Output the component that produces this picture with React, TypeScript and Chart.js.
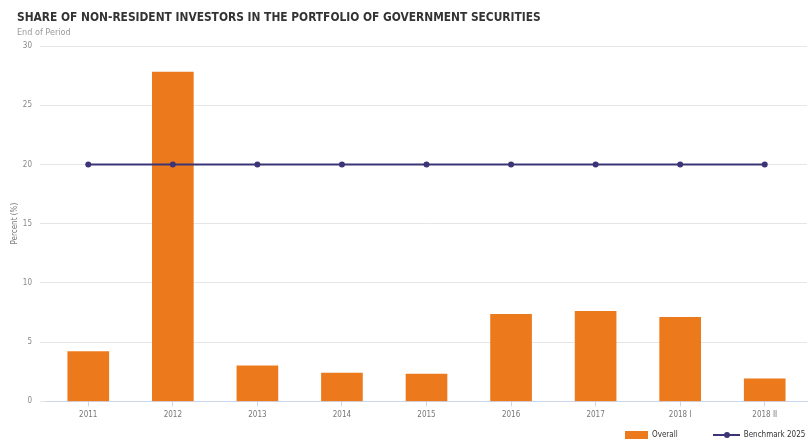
import React, { useEffect, useRef } from "react";
import { Chart, registerables } from "chart.js";

Chart.register(...registerables);

const categories = ["2011", "2012", "2013", "2014", "2015", "2016", "2017", "2018 I", "2018 II"];
const overall = [4.2, 27.8, 3.0, 2.4, 2.3, 7.35, 7.6, 7.1, 1.9];
const benchmark2025 = [20, 20, 20, 20, 20, 20, 20, 20, 20];
const yTicks = [0, 5, 10, 15, 20, 25, 30];

const ORANGE = "#ec7a1c";
const NAVY = "#3b3578";
const FONT = "'DejaVu Sans Condensed', 'DejaVu Sans', sans-serif";

export default function App() {
  const ref = useRef<HTMLCanvasElement>(null);
  useEffect(() => {
    if (!ref.current) return;
    const chart = new Chart(ref.current, {
      type: "bar",
      data: {
        labels: categories,
        datasets: [
          {
            type: "line",
            label: "Benchmark 2025",
            data: benchmark2025,
            borderColor: NAVY,
            backgroundColor: NAVY,
            borderWidth: 2,
            pointRadius: 3,
            pointBackgroundColor: NAVY,
            pointBorderWidth: 0,
            order: 0,
          },
          {
            type: "bar",
            label: "Overall",
            data: overall,
            backgroundColor: ORANGE,
            barThickness: 41,
            order: 1,
          },
        ],
      },
      options: {
        responsive: false,
        animation: false,
        maintainAspectRatio: false,
        layout: { autoPadding: false, padding: { top: 46, right: 1, left: 10, bottom: 17 } },
        plugins: {
          legend: { display: false },
          tooltip: { enabled: false },
        },
        scales: {
          x: {
            offset: true,
            afterFit: (axis: any) => {
              axis.paddingLeft = 0;
              axis.paddingRight = 0;
            },
            grid: {
              offset: false,
              drawOnChartArea: false,
              drawTicks: true,
              tickLength: 5,
              color: "#ccd6eb",
            },
            border: { display: true, color: "#ccd6eb" },
            ticks: {
              color: "#777",
              font: { family: FONT, size: 8 },
              padding: 4,
              maxRotation: 0,
            },
          },
          y: {
            min: 0,
            max: 30,
            afterBuildTicks: (axis: any) => {
              axis.ticks = yTicks.map((v) => ({ value: v }));
            },
            afterFit: (axis: any) => {
              axis.width = 36;
            },
            grid: { color: "#e6e6e6", tickLength: 6, drawTicks: true },
            border: { display: false },
            ticks: {
              color: "#888",
              font: { family: FONT, size: 8 },
              padding: 8,
            },
            title: {
              display: true,
              text: "Percent (%)",
              color: "#777",
              font: { family: FONT, size: 8 },
              padding: { top: 0, bottom: 0 },
            },
          },
        },
      },
    });
    return () => chart.destroy();
  }, []);

  return (
    <div style={{ position: "fixed", left: 0, top: 0, width: 808, height: 441, background: "#fff" }}>
      <canvas ref={ref} width={808} height={441} style={{ position: "absolute", left: 0, top: 0 }} />
      <div
        style={{
          position: "absolute",
          left: 17,
          top: 10,
          fontFamily: FONT,
          fontWeight: "bold",
          fontSize: 11.85,
          color: "#333",
          whiteSpace: "nowrap",
        }}
      >
        SHARE OF NON-RESIDENT INVESTORS IN THE PORTFOLIO OF GOVERNMENT SECURITIES
      </div>
      <div
        style={{
          position: "absolute",
          left: 17,
          top: 27,
          fontFamily: FONT,
          fontSize: 9,
          color: "#999",
          whiteSpace: "nowrap",
        }}
      >
        End of Period
      </div>
      <div
        style={{
          position: "absolute",
          left: 625,
          top: 430,
          display: "flex",
          alignItems: "center",
          fontFamily: FONT,
          fontSize: 8,
          color: "#333",
          whiteSpace: "nowrap",
        }}
      >
        <span style={{ display: "inline-block", width: 23, height: 8, background: ORANGE, marginRight: 4 }} />
        <span>Overall</span>
        <span style={{ position: "relative", display: "inline-block", width: 27, height: 8, marginLeft: 35, marginRight: 4 }}>
          <span style={{ position: "absolute", left: 0, top: 3, width: 27, height: 2, background: NAVY }} />
          <span style={{ position: "absolute", left: 11, top: 1, width: 6, height: 6, borderRadius: 3, background: NAVY }} />
        </span>
        <span>Benchmark 2025</span>
      </div>
    </div>
  );
}
